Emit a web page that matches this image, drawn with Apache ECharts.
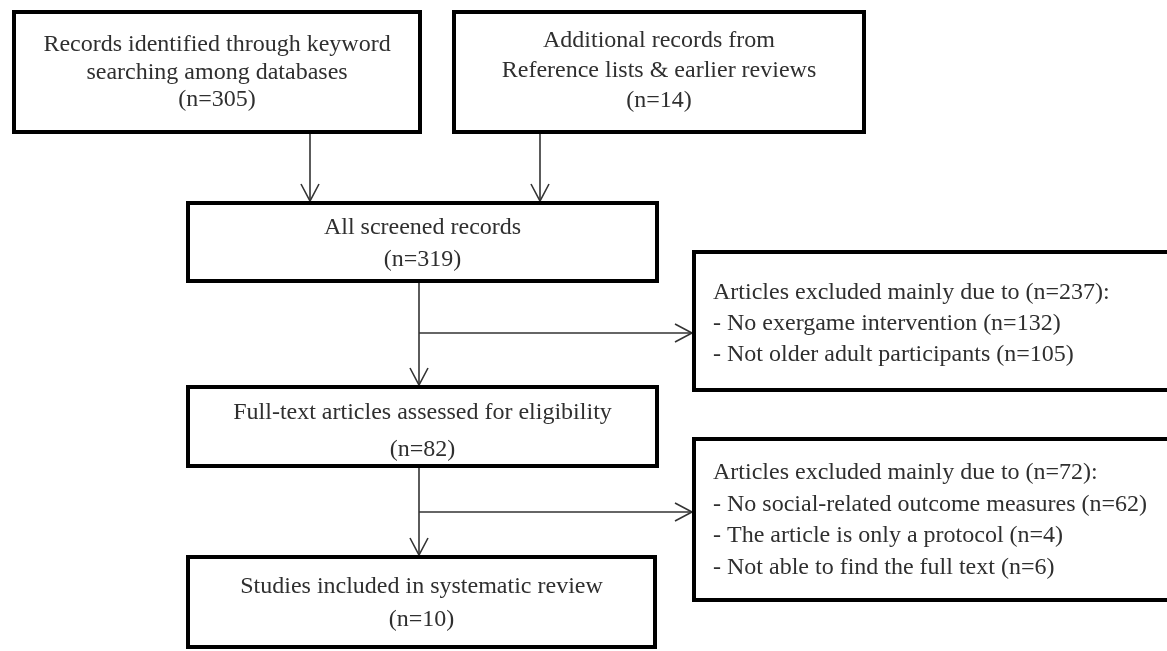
<!DOCTYPE html>
<html>
<head>
<meta charset="utf-8">
<script src="https://cdn.jsdelivr.net/npm/echarts@6/dist/echarts.min.js"></script>
<style>
html,body{margin:0;padding:0;background:#fff;}
#chart{width:1167px;height:651px;}
</style>
</head>
<body>
<div id="chart"></div>
<script>
// ---- data ----
const stageNames = [
  'Records identified through keyword searching among databases',
  'Additional records from Reference lists & earlier reviews',
  'All screened records',
  'Articles excluded mainly due to',
  'Full-text articles assessed for eligibility',
  'Articles excluded mainly due to',
  'Studies included in systematic review'
];
const stageCounts = [305, 14, 319, 237, 82, 72, 10];
const exclusion1Reasons = ['No exergame intervention', 'Not older adult participants'];
const exclusion1Counts = [132, 105];
const exclusion2Reasons = ['No social-related outcome measures', 'The article is only a protocol', 'Not able to find the full text'];
const exclusion2Counts = [62, 4, 6];

// ---- text lines per box ----
const boxLines = [
  ['Records identified through keyword', 'searching among databases', '(n=' + stageCounts[0] + ')'],
  ['Additional records from', 'Reference lists & earlier reviews', '(n=' + stageCounts[1] + ')'],
  ['All screened records', '(n=' + stageCounts[2] + ')'],
  [stageNames[3] + ' (n=' + stageCounts[3] + '):'].concat(exclusion1Reasons.map((r, i) => '- ' + r + ' (n=' + exclusion1Counts[i] + ')')),
  ['Full-text articles assessed for eligibility', '(n=' + stageCounts[4] + ')'],
  [stageNames[5] + ' (n=' + stageCounts[5] + '):'].concat(exclusion2Reasons.map((r, i) => '- ' + r + ' (n=' + exclusion2Counts[i] + ')')),
  ['Studies included in systematic review', '(n=' + stageCounts[6] + ')']
];

// ---- layout (page coordinates, separate from data) ----
const boxLayout = [
  {x0: 12,  y0: 10,  x1: 422,  y1: 134, ty: 45,  lh: 27.5, align: 'center'},
  {x0: 452, y0: 10,  x1: 866,  y1: 134, ty: 41,  lh: 30,   align: 'center'},
  {x0: 186, y0: 201, x1: 659,  y1: 283, ty: 228, lh: 32,   align: 'center'},
  {x0: 692, y0: 250, x1: 1180, y1: 392, ty: 293, lh: 31,   align: 'left', tx: 713},
  {x0: 186, y0: 385, x1: 659,  y1: 468, ty: 413, lh: 37,   align: 'center'},
  {x0: 692, y0: 437, x1: 1180, y1: 602, ty: 473, lh: 31.5, align: 'left', tx: 713},
  {x0: 186, y0: 555, x1: 657,  y1: 649, ty: 587, lh: 33,   align: 'center'}
];
const connectorLayout = [
  {pts: [[310, 134], [310, 201]], dir: 'down'},
  {pts: [[540, 134], [540, 201]], dir: 'down'},
  {pts: [[419, 283], [419, 385]], dir: 'down'},
  {pts: [[419, 333], [692, 333]], dir: 'right'},
  {pts: [[419, 468], [419, 555]], dir: 'down'},
  {pts: [[419, 512], [692, 512]], dir: 'right'}
];

const BORDER = 4;
const FONT = '24px "Liberation Serif", "Times New Roman", serif';
const TEXT_COLOR = '#2f2f2f';
const LINE_COLOR = '#333';

const chart = echarts.init(document.getElementById('chart'), null, {renderer: 'canvas'});

const option = {
  animation: false,
  backgroundColor: '#ffffff',
  grid: {left: 0, right: 0, top: 0, bottom: 0},
  xAxis: {type: 'value', min: 0, max: 1167, show: false},
  yAxis: {type: 'value', min: 0, max: 651, inverse: true, show: false},
  series: [
    {
      type: 'custom',
      name: 'connectors',
      coordinateSystem: 'cartesian2d',
      clip: false,
      data: connectorLayout.map(c => [c.pts[0][0], c.pts[0][1], c.pts[1][0], c.pts[1][1]]),
      renderItem: function (params, api) {
        const a = api.coord([api.value(0), api.value(1)]);
        const b = api.coord([api.value(2), api.value(3)]);
        const dir = connectorLayout[params.dataIndex].dir;
        const along = 17, across = 9;
        let arm1, arm2;
        if (dir === 'down') {
          arm1 = [b[0] - across, b[1] - along];
          arm2 = [b[0] + across, b[1] - along];
        } else {
          arm1 = [b[0] - along, b[1] - across];
          arm2 = [b[0] - along, b[1] + across];
        }
        const st = {stroke: LINE_COLOR, lineWidth: 1.6, fill: null};
        return {
          type: 'group',
          children: [
            {type: 'line', shape: {x1: a[0], y1: a[1], x2: b[0], y2: b[1]}, style: st},
            {type: 'polyline', shape: {points: [arm1, b, arm2]}, style: st}
          ]
        };
      }
    },
    {
      type: 'custom',
      name: 'boxes',
      coordinateSystem: 'cartesian2d',
      clip: false,
      data: boxLayout.map(b => [b.x0, b.y0, b.x1, b.y1]),
      renderItem: function (params, api) {
        const i = params.dataIndex;
        const L = boxLayout[i];
        const p0 = api.coord([api.value(0), api.value(1)]);
        const p1 = api.coord([api.value(2), api.value(3)]);
        const h = BORDER / 2;
        const children = [{
          type: 'rect',
          shape: {x: p0[0] + h, y: p0[1] + h, width: p1[0] - p0[0] - BORDER, height: p1[1] - p0[1] - BORDER},
          style: {fill: '#fff', stroke: '#000', lineWidth: BORDER}
        }];
        const cx = L.align === 'center' ? (p0[0] + p1[0]) / 2 : api.coord([L.tx, 0])[0];
        boxLines[i].forEach((line, k) => {
          const y = api.coord([0, L.ty + k * L.lh])[1];
          children.push({
            type: 'text',
            style: {
              text: line, x: cx, y: y, font: FONT, fill: TEXT_COLOR,
              align: L.align, verticalAlign: 'middle'
            }
          });
        });
        return {type: 'group', children: children};
      }
    }
  ]
};
chart.setOption(option);
</script>
</body>
</html>
